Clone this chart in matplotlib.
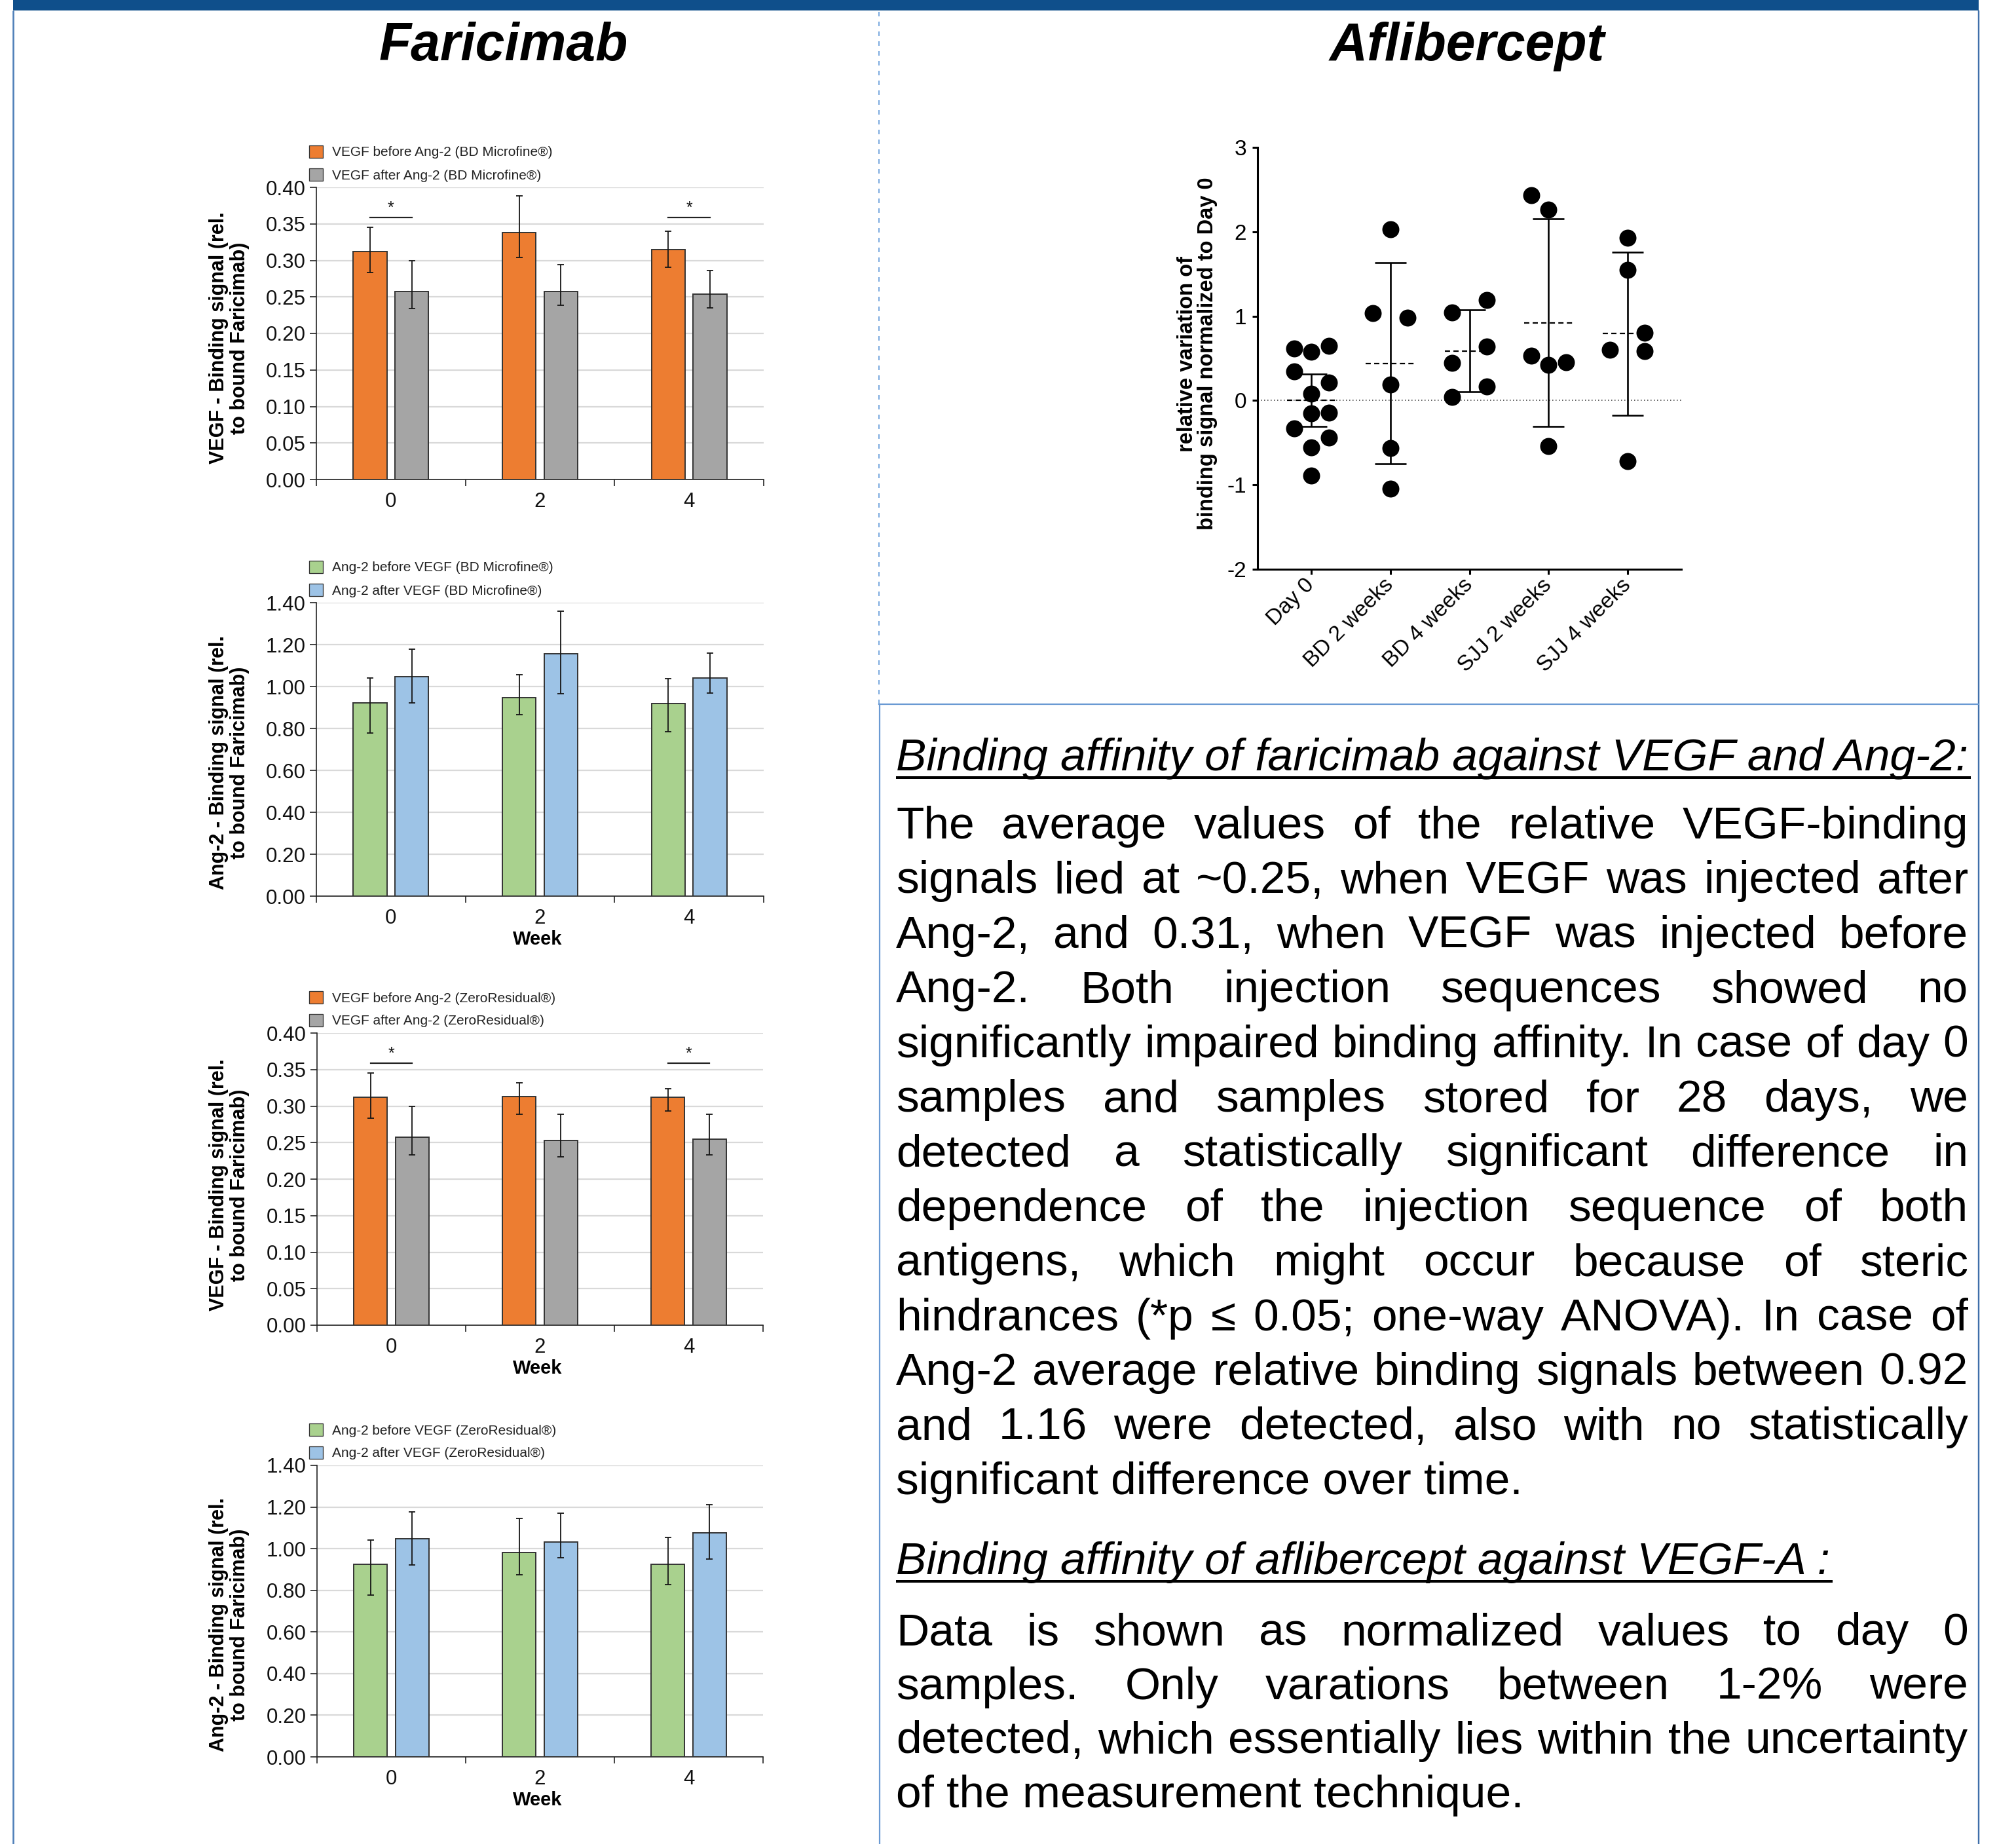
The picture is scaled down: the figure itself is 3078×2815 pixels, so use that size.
import matplotlib
matplotlib.use('Agg')
import matplotlib.pyplot as plt
from matplotlib.patches import Rectangle
import numpy as np

plt.rcParams['font.family'] = ['Liberation Sans', 'DejaVu Sans']
plt.rcParams['axes.unicode_minus'] = False
plt.rcParams['lines.scale_dashes'] = False

W, H, DPI = 3078, 2815, 100

# ------------------------------------------------------------------ data
weeks = ['0', '2', '4']

# BD Microfine - VEGF
bd_vegf_before = [0.312, 0.338, 0.315]
bd_vegf_before_hi = [0.345, 0.388, 0.340]
bd_vegf_before_lo = [0.283, 0.304, 0.291]
bd_vegf_after = [0.2575, 0.2575, 0.254]
bd_vegf_after_hi = [0.300, 0.294, 0.286]
bd_vegf_after_lo = [0.234, 0.239, 0.235]

# BD Microfine - Ang-2
bd_ang_before = [0.923, 0.946, 0.920]
bd_ang_before_hi = [1.040, 1.056, 1.039]
bd_ang_before_lo = [0.778, 0.866, 0.785]
bd_ang_after = [1.046, 1.155, 1.040]
bd_ang_after_hi = [1.177, 1.360, 1.158]
bd_ang_after_lo = [0.921, 0.967, 0.970]

# ZeroResidual - VEGF
zr_vegf_before = [0.312, 0.313, 0.312]
zr_vegf_before_hi = [0.345, 0.3315, 0.324]
zr_vegf_before_lo = [0.283, 0.289, 0.293]
zr_vegf_after = [0.257, 0.253, 0.2544]
zr_vegf_after_hi = [0.300, 0.289, 0.289]
zr_vegf_after_lo = [0.2335, 0.2306, 0.2335]

# ZeroResidual - Ang-2
zr_ang_before = [0.925, 0.981, 0.925]
zr_ang_before_hi = [1.0425, 1.1456, 1.054]
zr_ang_before_lo = [0.776, 0.874, 0.8285]
zr_ang_after = [1.049, 1.031, 1.075]
zr_ang_after_hi = [1.178, 1.1717, 1.211]
zr_ang_after_lo = [0.9225, 0.955, 0.951]

sig_weeks = ['0', '4']
sig_level = 0.359

vegf_ticks = [0.00, 0.05, 0.10, 0.15, 0.20, 0.25, 0.30, 0.35, 0.40]
ang_ticks = [0.00, 0.20, 0.40, 0.60, 0.80, 1.00, 1.20, 1.40]

# Aflibercept scatter
groups = ['Day 0', 'BD 2 weeks', 'BD 4 weeks', 'SJJ 2 weeks', 'SJJ 4 weeks']
day0_vals = [0.615, 0.575, 0.646, 0.343, 0.214, 0.080, -0.156, -0.143, -0.334, -0.441, -0.553, -0.891]
day0_slot = [-1, 0, 1, -1, 1, 0, 0, 1, -1, 1, 0, 0]
bd2_vals = [2.028, 1.038, 0.980, 0.187, -0.566, -1.043]
bd2_slot = [0, -1, 1, 0, 0, 0]
bd4_vals = [1.043, 1.194, 0.642, 0.446, 0.165, 0.040]
bd4_slot = [-1, 1, 1, -1, 1, -1]
sjj2_vals = [2.433, 2.259, 0.530, 0.423, 0.455, -0.544]
sjj2_slot = [-1, 0, -1, 0, 1, 0]
sjj4_vals = [1.925, 1.546, 0.802, 0.602, 0.588, -0.722]
sjj4_slot = [0, 0, 1, -1, 1, 0]
group_mean = [0.0, 0.441, 0.588, 0.922, 0.793]
group_sd = [0.31, 1.19, 0.485, 1.228, 0.965]
scatter_ticks = [-2, -1, 0, 1, 2, 3]

# text
title_left = 'Faricimab'
title_right = 'Aflibercept'
head1 = 'Binding affinity of faricimab against VEGF and Ang-2:'
para1 = [
    'The average values of the relative VEGF-binding',
    'signals lied at ~0.25, when VEGF was injected after',
    'Ang-2, and 0.31, when VEGF was injected before',
    'Ang-2. Both injection sequences showed no',
    'significantly impaired binding affinity. In case of day 0',
    'samples and samples stored for 28 days, we',
    'detected a statistically significant difference in',
    'dependence of the injection sequence of both',
    'antigens, which might occur because of steric',
    'hindrances (*p \u2264 0.05; one-way ANOVA). In case of',
    'Ang-2 average relative binding signals between 0.92',
    'and 1.16 were detected, also with no statistically',
    'significant difference over time.',
]
head2 = 'Binding affinity of aflibercept against VEGF-A :'
para2 = [
    'Data is shown as normalized values to day 0',
    'samples. Only varations between 1-2% were',
    'detected, which essentially lies within the uncertainty',
    'of the measurement technique.',
]

# ------------------------------------------------------------------ style
ORANGE = '#ED7D31'
GRAY = '#A5A5A5'
GREEN = '#A9D18E'
BLUE = '#9DC3E6'
EDGE = '#333333'
GRID = '#D9D9D9'
PX = 0.72  # points per pixel at 100 dpi

fig = plt.figure(figsize=(W / DPI, H / DPI), dpi=DPI)
fig.patch.set_facecolor('white')
bg = fig.add_axes([0, 0, 1, 1])
bg.set_xlim(0, W)
bg.set_ylim(H, 0)
bg.axis('off')
renderer = fig.canvas.get_renderer()


def rect_of(x0, x1, yt, yb):
    return [x0 / W, 1 - yb / H, (x1 - x0) / W, (yb - yt) / H]


# ------------------------------------------------------------------ poster frame
bg.add_patch(Rectangle((20, 0), 3001, 16, facecolor='#0F4F8B', edgecolor='none'))
bg.plot([20, 20], [16, H], color='#4F7FB9', lw=2.6 * PX, solid_capstyle='butt')
bg.plot([3021, 3021], [16, H], color='#3F6FAA', lw=2.4 * PX, solid_capstyle='butt')
bg.plot([1342, 1342], [18, 1075], color='#5B95D8', lw=1.6 * PX, linestyle=(0, (5, 5.8)))
bg.plot([1342, 3021], [1075, 1075], color='#6A9AD3', lw=2.2 * PX)
bg.plot([1343, 1343], [1075, H], color='#6A9AD3', lw=2.2 * PX)

# titles
bg.text(769, 92, title_left, fontsize=58, fontweight='bold', fontstyle='italic',
        ha='center', va='baseline')
bg.text(2240, 92, title_right, fontsize=58, fontweight='bold', fontstyle='italic',
        ha='center', va='baseline')


# ------------------------------------------------------------------ bar panels
def bar_panel(box, before, b_hi, b_lo, after, a_hi, a_lo, c1, c2, ymax, yticks,
              leg1, leg2, ylabel, ylab_y, show_week, sig):
    x0, x1, yt, yb = box
    ax = fig.add_axes(rect_of(x0, x1, yt, yb))
    ax.set_facecolor('none')
    x = np.arange(len(weeks)) + 0.5
    off, bw = 0.14, 0.225
    b = np.array(before)
    a = np.array(after)
    eb = [b - np.array(b_lo), np.array(b_hi) - b]
    ea = [a - np.array(a_lo), np.array(a_hi) - a]
    ax.bar(x - off, b, bw, color=c1, edgecolor=EDGE, linewidth=1.4, zorder=3)
    ax.bar(x + off, a, bw, color=c2, edgecolor=EDGE, linewidth=1.4, zorder=3)
    for xs, v, e in ((x - off, b, eb), (x + off, a, ea)):
        ax.errorbar(xs, v, yerr=e, fmt='none', ecolor='#151515', elinewidth=1.3,
                    capsize=3.6, capthick=1.3, zorder=4)
    ax.set_xlim(0, 3)
    ax.set_ylim(0, ymax)
    ax.set_yticks(yticks)
    ax.set_yticklabels(['{:.2f}'.format(v) for v in yticks])
    ax.yaxis.grid(True, color=GRID, lw=1.6)
    ax.set_axisbelow(True)
    ax.set_xticks([0, 1, 2, 3])
    ax.set_xticklabels([])
    ax.set_xticks(x, minor=True)
    ax.set_xticklabels(weeks, minor=True)
    ax.tick_params(axis='x', which='major', length=7, width=1.2, color='#222')
    ax.tick_params(axis='x', which='minor', length=0, pad=14, labelsize=22.5,
                   labelcolor='#111')
    ax.tick_params(axis='y', length=7, width=1.2, color='#222', labelsize=22.5,
                   pad=5, labelcolor='#111')
    for s in ('top', 'right'):
        ax.spines[s].set_visible(False)
    for s in ('left', 'bottom'):
        ax.spines[s].set_color('#222')
        ax.spines[s].set_linewidth(1.2)
    if sig:
        for wk in sig_weeks:
            i = weeks.index(wk)
            ax.plot([x[i] - off, x[i] + off], [sig_level, sig_level], color='#222',
                    lw=1.6, zorder=5)
            ax.text(x[i], sig_level + 0.0125, '*', ha='center', va='center',
                    fontsize=18, color='#111')
    # legend (manual, above axes)
    for k, (lab, col) in enumerate(((leg1, c1), (leg2, c2))):
        cy = yt - 55 + 35 * k
        bg.add_patch(Rectangle((472, cy - 9.5), 21, 19, facecolor=col,
                               edgecolor='#333', lw=1.3 * PX))
        bg.text(507, cy, lab, fontsize=15, ha='left', va='center_baseline',
                color='#222')
    bg.text(350, ylab_y, ylabel, fontsize=22, fontweight='bold', rotation=90,
            ha='center', va='center', multialignment='center', linespacing=1.05)
    if show_week:
        bg.text((x0 + x1) / 2 - 4, yb + 66, 'Week', fontsize=21, fontweight='bold',
                ha='center', va='center')
    return ax


vegf_lab = 'VEGF - Binding signal (rel.\nto bound Faricimab)'
ang_lab = 'Ang-2 - Binding signal (rel.\nto bound Faricimab)'

bar_panel((483, 1166, 286, 732), bd_vegf_before, bd_vegf_before_hi, bd_vegf_before_lo,
          bd_vegf_after, bd_vegf_after_hi, bd_vegf_after_lo, ORANGE, GRAY, 0.40,
          vegf_ticks, 'VEGF before Ang-2 (BD Microfine\u00ae)',
          'VEGF after Ang-2 (BD Microfine\u00ae)', vegf_lab, 516, False, True)
bar_panel((483, 1166, 920, 1368), bd_ang_before, bd_ang_before_hi, bd_ang_before_lo,
          bd_ang_after, bd_ang_after_hi, bd_ang_after_lo, GREEN, BLUE, 1.40,
          ang_ticks, 'Ang-2 before VEGF (BD Microfine\u00ae)',
          'Ang-2 after VEGF (BD Microfine\u00ae)', ang_lab, 1164, True, False)
bar_panel((484, 1165, 1577, 2023), zr_vegf_before, zr_vegf_before_hi, zr_vegf_before_lo,
          zr_vegf_after, zr_vegf_after_hi, zr_vegf_after_lo, ORANGE, GRAY, 0.40,
          vegf_ticks, 'VEGF before Ang-2 (ZeroResidual\u00ae)',
          'VEGF after Ang-2 (ZeroResidual\u00ae)', vegf_lab, 1809, True, True)
bar_panel((484, 1165, 2237, 2682), zr_ang_before, zr_ang_before_hi, zr_ang_before_lo,
          zr_ang_after, zr_ang_after_hi, zr_ang_after_lo, GREEN, BLUE, 1.40,
          ang_ticks, 'Ang-2 before VEGF (ZeroResidual\u00ae)',
          'Ang-2 after VEGF (ZeroResidual\u00ae)', ang_lab, 2480, True, False)

# ------------------------------------------------------------------ scatter panel
axs = fig.add_axes(rect_of(1920, 2567, 225, 869))
axs.set_facecolor('none')
all_vals = [day0_vals, bd2_vals, bd4_vals, sjj2_vals, sjj4_vals]
all_slots = [day0_slot, bd2_slot, bd4_slot, sjj2_slot, sjj4_slot]
gx = np.arange(len(groups))
m = np.array(group_mean)
sd = np.array(group_sd)
axs.axhline(0, color='#333', lw=1.1, linestyle=(0, (1.1, 2.5)), zorder=1)
axs.vlines(gx, m - sd, m + sd, color='black', lw=1.9, zorder=3)
axs.hlines(m + sd, gx - 0.2, gx + 0.2, color='black', lw=1.9, zorder=3)
axs.hlines(m - sd, gx - 0.2, gx + 0.2, color='black', lw=1.9, zorder=3)
axs.hlines(m, gx - 0.31, gx + 0.31, color='black', lw=1.6,
           linestyles=[(0, (5.7, 3.7))], zorder=3)
for i, (vals, slots) in enumerate(zip(all_vals, all_slots)):
    xs = i + 0.22 * np.array(slots)
    axs.scatter(xs, vals, s=350, color='black', linewidths=0, zorder=4)
axs.set_xlim(-0.68, 4.68)
axs.set_ylim(-2, 3)
axs.set_yticks(scatter_ticks)
axs.set_yticklabels([str(v) for v in scatter_ticks])
axs.set_xticks(gx)
axs.set_xticklabels(groups, rotation=45, ha='right', va='center',
                    rotation_mode='anchor')
for s in ('top', 'right'):
    axs.spines[s].set_visible(False)
for s in ('left', 'bottom'):
    axs.spines[s].set_linewidth(2.2)
axs.tick_params(axis='both', length=6, width=2.2, labelsize=24)
axs.tick_params(axis='y', pad=6)
axs.tick_params(axis='x', pad=8)
bg.text(1828, 540, 'relative variation of\nbinding signal normalized to Day 0',
        fontsize=23.5, fontweight='bold', rotation=90, ha='center', va='center',
        multialignment='center', linespacing=1.0)

# ------------------------------------------------------------------ text panel
FS = 50
TX0, TX1 = 1368, 3005


def text_width(s, **kw):
    t = bg.text(0, 0, s, fontsize=FS, **kw)
    w = t.get_window_extent(renderer=renderer).width
    t.remove()
    return w


def heading(txt, yb):
    bg.text(TX0, yb, txt, fontsize=FS, fontstyle='italic', ha='left', va='baseline')
    w = text_width(txt, fontstyle='italic')
    bg.plot([TX0, TX0 + w + 4], [yb + 11, yb + 11], color='black', lw=4 * PX,
            solid_capstyle='butt')


def justified(lines, y0, dy):
    for k, line in enumerate(lines):
        y = y0 + k * dy
        if k == len(lines) - 1:
            bg.text(TX0, y, line, fontsize=FS, ha='left', va='baseline')
            continue
        words = line.split(' ')
        widths = [text_width(w) for w in words]
        gap = (TX1 - TX0 - sum(widths)) / (len(words) - 1)
        x = TX0
        for w, wd in zip(words, widths):
            bg.text(x, y, w, fontsize=FS, ha='left', va='baseline')
            x += wd + gap


heading(head1, 1176)
justified(para1, 1280, 83.4)
heading(head2, 2403)
justified(para2, 2511, 82.7)

fig.savefig('out.png', dpi=DPI, facecolor='white')
